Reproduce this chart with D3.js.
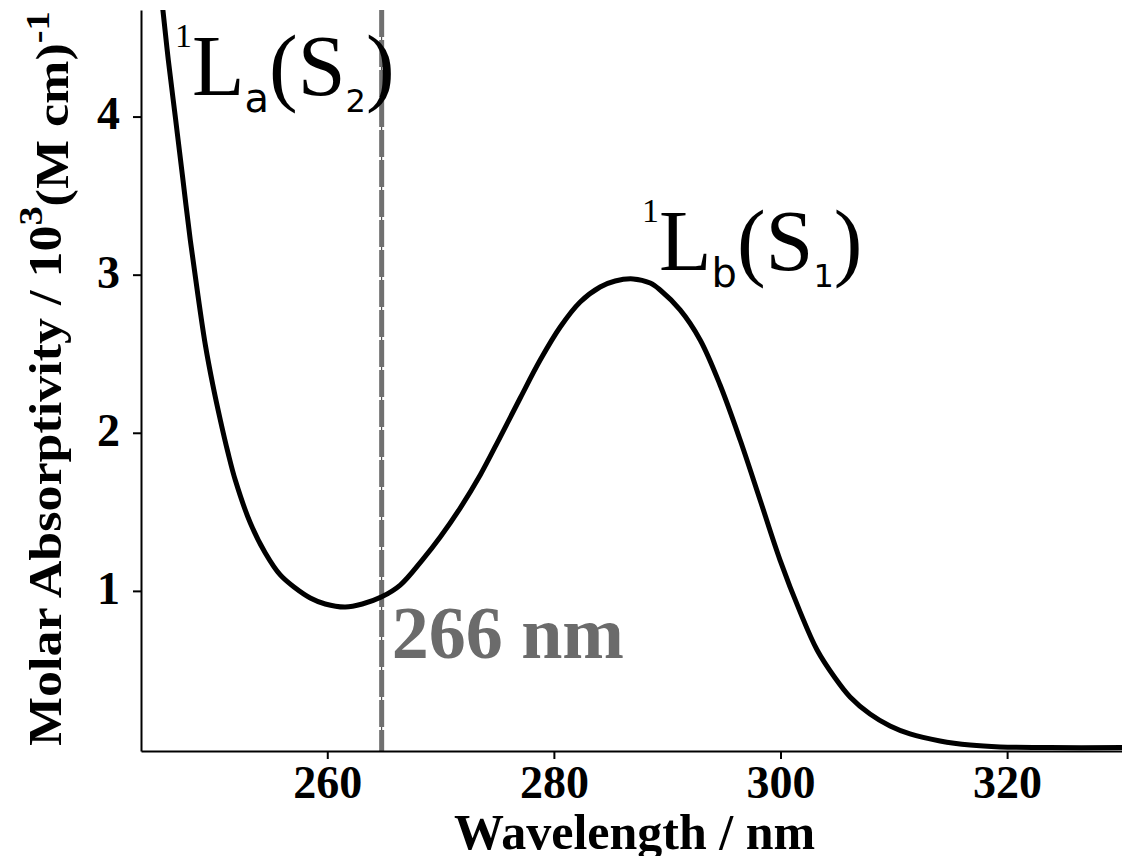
<!DOCTYPE html>
<html>
<head>
<meta charset="utf-8">
<script src="https://cdn.jsdelivr.net/npm/d3@7"></script>
<style>
  html, body { margin: 0; padding: 0; background: #fff; }
  svg { display: block; }
</style>
</head>
<body>
<script>
// ---------------- data ----------------
const wavelength = [245.28, 245.51, 245.97, 246.59, 247.21, 247.91, 248.58, 249.24, 249.90, 250.56,
  251.22, 251.88, 253.21, 254.53, 255.85, 257.18, 258.50, 259.82, 261.59, 263.09,
  264.76, 266.44, 268.38, 269.97, 271.73, 273.50, 275.26, 277.03, 278.79, 280.56,
  282.32, 284.08, 285.41, 287.00, 288.50, 289.38, 291.14, 292.91, 294.67, 296.44,
  298.20, 299.96, 301.73, 303.23, 304.82, 306.14, 307.90, 309.67, 311.43, 314.08,
  316.73, 319.37, 323.79, 330.14];
const absorptivity = [4.801, 4.662, 4.358, 3.997, 3.631, 3.219, 2.872, 2.555, 2.302, 2.081,
  1.879, 1.701, 1.429, 1.240, 1.101, 1.018, 0.955, 0.917, 0.898, 0.917,
  0.961, 1.037, 1.195, 1.341, 1.524, 1.733, 1.973, 2.220, 2.460, 2.669,
  2.827, 2.922, 2.960, 2.973, 2.947, 2.903, 2.777, 2.587, 2.302, 1.954,
  1.575, 1.195, 0.867, 0.626, 0.449, 0.329, 0.221, 0.145, 0.095, 0.051,
  0.025, 0.013, 0.009, 0.009];
const xTicks = [260, 280, 300, 320];
const yTicks = [1, 2, 3, 4];
const markerWavelength = 264.8;
const markerLabel = "266 nm";
const xTitle = "Wavelength / nm";

// ---------------- layout ----------------
const W = 1122, H = 856;
const mLeft = 141, mRight = 1122, mTop = 10, mBottom = 751;
const serif = "'Liberation Serif', 'Times New Roman', serif";
const sans = "'DejaVu Sans', sans-serif";

const svg = d3.select("body").append("svg").attr("width", W).attr("height", H);
svg.append("rect").attr("width", W).attr("height", H).attr("fill", "#fff");

const x = d3.scaleLinear().domain([243.56, 330.14]).range([mLeft, mRight]);
const y = d3.scaleLinear().domain([-0.0127, 4.674]).range([mBottom, mTop]);

svg.append("clipPath").attr("id", "plot").append("rect")
  .attr("x", mLeft).attr("y", mTop).attr("width", mRight - mLeft).attr("height", mBottom - mTop);

// marker line
const mx = x(markerWavelength);
svg.append("line").attr("x1", mx).attr("x2", mx).attr("y1", mTop).attr("y2", mBottom)
  .attr("stroke", "#333").attr("stroke-width", 1);
svg.append("line").attr("x1", mx).attr("x2", mx).attr("y1", mTop).attr("y2", mBottom)
  .attr("stroke", "#707070").attr("stroke-width", 5).attr("stroke-dasharray", "27,3");

// curve
const pts = wavelength.map((w, i) => [w, absorptivity[i]]);
svg.append("path").datum(pts)
  .attr("clip-path", "url(#plot)")
  .attr("fill", "none").attr("stroke", "#000").attr("stroke-width", 5)
  .attr("stroke-linejoin", "round")
  .attr("d", d3.line().x(d => x(d[0])).y(d => y(d[1])).curve(d3.curveCatmullRom.alpha(0.5)));

// axes
const gy = svg.append("g").attr("transform", `translate(${mLeft},0)`)
  .call(d3.axisLeft(y).tickValues(yTicks).tickSize(8).tickSizeOuter(0).tickPadding(13).tickFormat(d3.format("d")));
const gx = svg.append("g").attr("transform", `translate(0,${mBottom})`)
  .call(d3.axisBottom(x).tickValues(xTicks).tickSize(8).tickSizeOuter(0).tickPadding(6).tickFormat(d3.format("d")));
[gx, gy].forEach(g => {
  g.select(".domain").attr("stroke", "#000").attr("stroke-width", 2);
  g.selectAll(".tick line").attr("stroke", "#000").attr("stroke-width", 2);
  g.selectAll(".tick text").attr("fill", "#000").style("font-family", serif)
    .style("font-weight", "bold").style("font-size", "46px");
});
gy.selectAll(".tick text").attr("dy", "0.27em");

// marker label
svg.append("text").attr("x", mx + 10).attr("y", 658)
  .style("font-family", serif).style("font-weight", "bold").style("font-size", "74px")
  .attr("fill", "#6b6b6b").text(markerLabel);

// x title
svg.append("text").attr("x", 454).attr("y", 849)
  .style("font-family", serif).style("font-weight", "bold").style("font-size", "50px")
  .attr("fill", "#000").text(xTitle);

// y title
const yt = svg.append("text")
  .style("font-family", serif).style("font-weight", "bold").style("font-size", "46px")
  .attr("fill", "#000");
yt.append("tspan").text("Molar Absorptivity / 10");
yt.append("tspan").attr("dy", "-0.55em").style("font-size", "34px").text("3");
yt.append("tspan").attr("dy", "0.55em").text("(M cm)");
yt.append("tspan").attr("dy", "-0.55em").style("font-size", "34px").text("-1");
const ylen = yt.node().getComputedTextLength();
const ys = 735 / ylen;
yt.attr("transform", `translate(61,746) rotate(-90) scale(${ys},1)`);

// state labels
function stateLabel(x0, base, letter, digit) {
  const t = svg.append("text").attr("x", x0).attr("y", base - 48).attr("fill", "#000");
  t.append("tspan").style("font-family", serif).style("font-size", "34px").text("1");
  t.append("tspan").attr("dy", 48).style("font-family", serif).style("font-size", "86px").text("L");
  t.append("tspan").attr("dy", 17).style("font-family", sans).style("font-size", "40px").text(letter);
  t.append("tspan").attr("dy", -17).style("font-family", serif).style("font-size", "86px").text("(S");
  t.append("tspan").attr("dy", 17).style("font-family", sans).style("font-size", "32px").text(digit);
  t.append("tspan").attr("dy", -17).style("font-family", serif).style("font-size", "86px").text(")");
}
stateLabel(175, 95, "a", "2");
stateLabel(642, 270, "b", "1");
</script>
</body>
</html>
